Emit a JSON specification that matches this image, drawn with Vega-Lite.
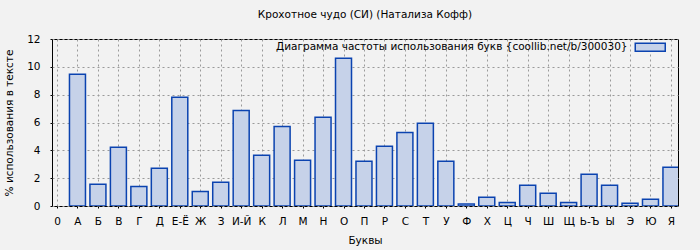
{
  "$schema": "https://vega.github.io/schema/vega-lite/v6.json",
  "width": 626,
  "height": 167,
  "autosize": {"type": "none"},
  "padding": {"left": 52, "top": 39, "right": 22, "bottom": 44},
  "background": "#f2f2f2",
  "title": {"text": "Крохотное чудо (СИ) (Натализа Кофф)", "fontSize": 10.5, "font": "DejaVu Sans", "fontWeight": "normal", "offset": 14, "color": "#000000"},
  "config": {
    "font": "DejaVu Sans",
    "view": {"stroke": "#000000", "strokeWidth": 1}
  },
  "data": {
    "values": [
      {"idx": 1, "letter": "А", "value": 9.46},
      {"idx": 2, "letter": "Б", "value": 1.56},
      {"idx": 3, "letter": "В", "value": 4.22},
      {"idx": 4, "letter": "Г", "value": 1.41},
      {"idx": 5, "letter": "Д", "value": 2.71},
      {"idx": 6, "letter": "Е-Ё", "value": 7.81},
      {"idx": 7, "letter": "Ж", "value": 1.05},
      {"idx": 8, "letter": "З", "value": 1.70},
      {"idx": 9, "letter": "И-Й", "value": 6.87},
      {"idx": 10, "letter": "К", "value": 3.64},
      {"idx": 11, "letter": "Л", "value": 5.72},
      {"idx": 12, "letter": "М", "value": 3.28},
      {"idx": 13, "letter": "Н", "value": 6.37},
      {"idx": 14, "letter": "О", "value": 10.61},
      {"idx": 15, "letter": "П", "value": 3.21},
      {"idx": 16, "letter": "Р", "value": 4.29},
      {"idx": 17, "letter": "С", "value": 5.29},
      {"idx": 18, "letter": "Т", "value": 5.94},
      {"idx": 19, "letter": "У", "value": 3.21},
      {"idx": 20, "letter": "Ф", "value": 0.14},
      {"idx": 21, "letter": "Х", "value": 0.62},
      {"idx": 22, "letter": "Ц", "value": 0.26},
      {"idx": 23, "letter": "Ч", "value": 1.49},
      {"idx": 24, "letter": "Ш", "value": 0.91},
      {"idx": 25, "letter": "Щ", "value": 0.26},
      {"idx": 26, "letter": "Ь-Ъ", "value": 2.28},
      {"idx": 27, "letter": "Ы", "value": 1.49},
      {"idx": 28, "letter": "Э", "value": 0.19},
      {"idx": 29, "letter": "Ю", "value": 0.48},
      {"idx": 30, "letter": "Я", "value": 2.78}
    ]
  },
  "mark": {"type": "bar", "width": 16, "stroke": "#0b43b0", "strokeWidth": 1.5, "clip": true, "fillOpacity": 1},
  "encoding": {
    "x": {
      "field": "idx",
      "type": "quantitative",
      "scale": {"domain": [0, 30.1], "nice": false, "zero": false},
      "axis": {
        "values": [0,1,2,3,4,5,6,7,8,9,10,11,12,13,14,15,16,17,18,19,20,21,22,23,24,25,26,27,28,29,30],
        "labelExpr": "['0','А','Б','В','Г','Д','Е-Ё','Ж','З','И-Й','К','Л','М','Н','О','П','Р','С','Т','У','Ф','Х','Ц','Ч','Ш','Щ','Ь-Ъ','Ы','Э','Ю','Я'][datum.value]",
        "title": "Буквы",
        "grid": true,
        "gridDash": [2, 3],
        "gridColor": "#9a9a9a",
        "gridOpacity": 1,
        "domain": false,
        "ticks": true,
        "tickColor": "#000000",
        "tickSize": 2,
        "labelFontSize": 10.5,
        "labelColor": "#000000",
        "labelPadding": 8,
        "labelFlush": false,
        "labelOverlap": false,
        "titleFontSize": 10.5,
        "titleFontWeight": "normal",
        "titleColor": "#000000",
        "titlePadding": 9
      }
    },
    "y": {
      "field": "value",
      "type": "quantitative",
      "scale": {"domain": [0, 12], "nice": false},
      "axis": {
        "values": [0, 2, 4, 6, 8, 10, 12],
        "title": "% использования в тексте",
        "grid": true,
        "gridDash": [2, 3],
        "gridColor": "#9a9a9a",
        "gridOpacity": 1,
        "domain": false,
        "tickColor": "#000000",
        "tickSize": 2,
        "labelFontSize": 10.5,
        "labelColor": "#000000",
        "labelPadding": 10,
        "labelFlush": false,
        "titleFontSize": 10.5,
        "titleFontWeight": "normal",
        "titleColor": "#000000",
        "titlePadding": 12
      }
    },
    "fill": {
      "datum": "Диаграмма частоты использования букв {coollib.net/b/300030}",
      "type": "nominal",
      "scale": {"range": ["#c6d2e9"]},
      "legend": {
        "title": null,
        "orient": "none",
        "legendX": 593,
        "legendY": 3,
        "symbolType": "M-3.75,-1H3.75V1H-3.75Z",
        "symbolSize": 64,
        "symbolStrokeColor": "#0b43b0",
        "symbolStrokeWidth": 1.5,
        "labelAlign": "right",
        "labelOffset": -28,
        "labelFontSize": 10.5,
        "labelColor": "#000000",
        "labelLimit": 0,
        "padding": 0
      }
    }
  }
}
